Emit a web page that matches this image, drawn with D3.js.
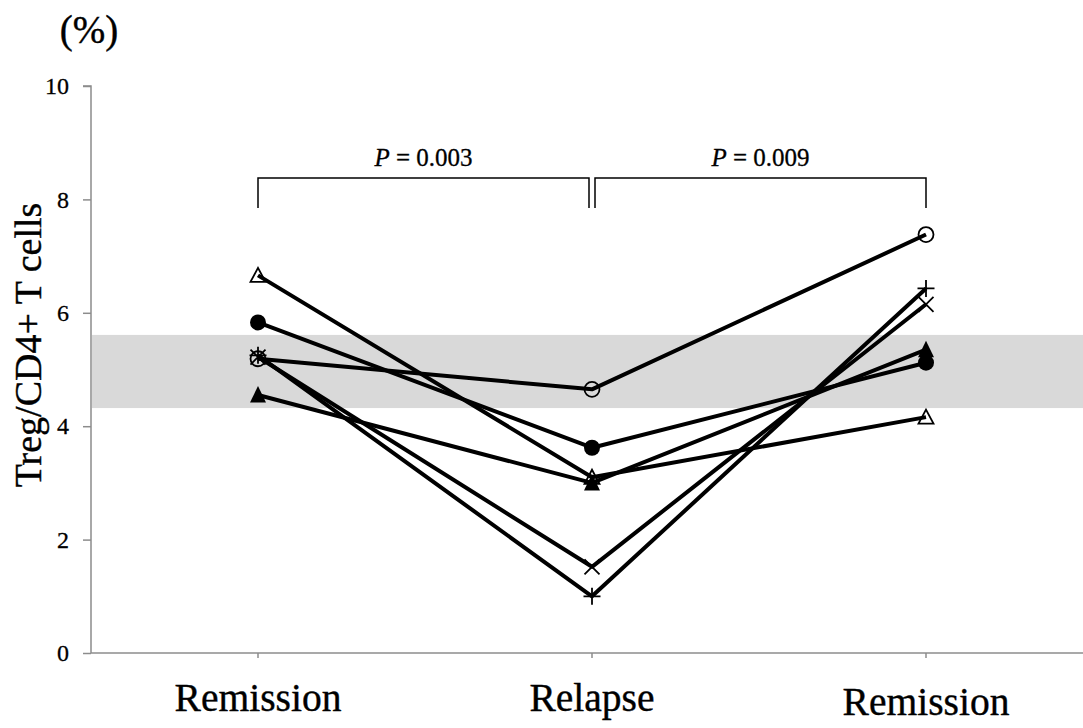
<!DOCTYPE html>
<html>
<head>
<meta charset="utf-8">
<script src="https://cdn.jsdelivr.net/npm/d3@7"></script>
<style>
  html, body { margin: 0; padding: 0; background: #fff; }
  svg { display: block; }
  text { font-family: "Liberation Serif", "Times New Roman", serif; fill: #000; }
</style>
</head>
<body>
<div id="chart"></div>
<script>
// ── Data ──────────────────────────────────────────────────────────────
const categories   = ["rem1", "relapse", "rem2"];
const categoryText = ["Remission", "Relapse", "Remission"];
const yTicks       = [0, 2, 4, 6, 8, 10];

// one entry per patient: marker type + values at the three time points
const seriesMarkers = ["triangleOpen", "circleFilled", "circleOpen", "cross", "plus", "triangleFilled"];
const seriesValues  = [
  [6.66, 3.10, 4.16],
  [5.83, 3.62, 5.12],
  [5.19, 4.65, 7.38],
  [5.22, 1.52, 6.15],
  [5.25, 1.00, 6.43],
  [4.55, 3.00, 5.35]
];

// normal range band
const normalRange = [4.32, 5.61];

// significance brackets: [from, to, label]
const brackets = [
  ["rem1", "relapse", "0.003"],
  ["relapse", "rem2", "0.009"]
];

// ── Layout ────────────────────────────────────────────────────────────
const W = 1083, H = 728;
const plot = { left: 91, right: 1093, top: 86, bottom: 653 };

const svg = d3.select("#chart").append("svg")
  .attr("width", W)
  .attr("height", H);

const x = d3.scaleBand()
  .domain(categories)
  .range([plot.left, plot.right]);
const cx = c => x(c) + x.bandwidth() / 2;

const y = d3.scaleLinear()
  .domain([0, 10])
  .range([plot.bottom, plot.top]);

// ── Normal range band ─────────────────────────────────────────────────
svg.append("rect")
  .attr("x", plot.left + 1)
  .attr("y", y(normalRange[1]))
  .attr("width", W - plot.left - 1)
  .attr("height", y(normalRange[0]) - y(normalRange[1]))
  .attr("fill", "#d9d9d9");

// ── Axes ──────────────────────────────────────────────────────────────
const axisColor = "#8c8c8c";
const serif = '"Liberation Serif", "Times New Roman", serif';

const yAxis = svg.append("g")
  .attr("transform", `translate(${plot.left},0)`)
  .call(d3.axisLeft(y).tickValues(yTicks).tickSize(8).tickPadding(14).tickFormat(d3.format("d")));
yAxis.select(".domain").attr("stroke", axisColor).attr("stroke-width", 1.5)
  .attr("d", `M-8,${y(10)}H0V${y(0)}`);
yAxis.selectAll(".tick line").attr("stroke", axisColor).attr("stroke-width", 1.5);
yAxis.selectAll(".tick text")
  .style("font-family", serif)
  .style("font-size", "24px")
  .attr("fill", "#000")
  .attr("stroke", "#000").attr("stroke-width", 0.3);

const xAxis = svg.append("g")
  .attr("transform", `translate(0,${plot.bottom})`)
  .call(d3.axisBottom(x).tickSize(5).tickFormat(""));
xAxis.select(".domain").attr("stroke", axisColor).attr("stroke-width", 1.5)
  .attr("d", `M${plot.left},0H${W}`);
xAxis.selectAll(".tick line").attr("stroke", axisColor).attr("stroke-width", 1.5);

// category labels (the last one sits a touch lower in the original)
svg.append("g").selectAll("text")
  .data(categories)
  .join("text")
  .attr("x", d => cx(d))
  .attr("y", (d, i) => 711 + (i === 2 ? 4 : 0))
  .attr("text-anchor", "middle")
  .attr("stroke", "#000").attr("stroke-width", 0.4)
  .style("font-size", "39.5px")
  .text((d, i) => categoryText[i]);

// y-axis title and unit
svg.append("text")
  .attr("transform", "translate(41,345) rotate(-90)")
  .attr("text-anchor", "middle")
  .attr("stroke", "#000").attr("stroke-width", 0.4)
  .style("font-size", "38px")
  .text("Treg/CD4+ T cells");

svg.append("text")
  .attr("x", 89)
  .attr("y", 43)
  .attr("text-anchor", "middle")
  .attr("stroke", "#000").attr("stroke-width", 0.4)
  .style("font-size", "39px")
  .text("(%)");

// ── Significance brackets ─────────────────────────────────────────────
const brY = 178, brDrop = 30, brGap = 3;
brackets.forEach(([a, b, p], i) => {
  const x1 = cx(a) + (i === 1 ? brGap : 0);
  const x2 = cx(b) - (i === 0 ? brGap : 0);
  svg.append("path")
    .attr("d", `M${x1},${brY + brDrop}V${brY}H${x2}V${brY + brDrop}`)
    .attr("fill", "none")
    .attr("stroke", "#000")
    .attr("stroke-width", 1.5);
  const t = svg.append("text")
    .attr("x", (x1 + x2) / 2)
    .attr("y", brY - 12)
    .attr("text-anchor", "middle")
    .attr("stroke", "#000").attr("stroke-width", 0.3)
    .style("font-size", "25px");
  t.append("tspan").style("font-style", "italic").text("P");
  t.append("tspan").text(` = ${p}`);
});

// ── Series lines ──────────────────────────────────────────────────────
const line = d3.line()
  .x((d, i) => cx(categories[i]))
  .y(d => y(d));

svg.append("g").selectAll("path")
  .data(seriesValues)
  .join("path")
  .attr("d", line)
  .attr("fill", "none")
  .attr("stroke", "#000")
  .attr("stroke-width", 4)
  .attr("stroke-linejoin", "round");

// ── Markers ───────────────────────────────────────────────────────────
function drawMarker(g, type) {
  const s = 7.5;
  switch (type) {
    case "circleFilled":
      g.append("circle").attr("r", 8).attr("fill", "#000");
      break;
    case "circleOpen":
      g.append("circle").attr("r", 7.5).attr("fill", "none")
        .attr("stroke", "#000").attr("stroke-width", 1.8);
      break;
    case "triangleFilled":
      g.append("path").attr("d", `M0,${-s - 1.5}L${s + 0.5},${s}L${-s - 0.5},${s}Z`).attr("fill", "#000");
      break;
    case "triangleOpen":
      g.append("path").attr("d", `M0,${-s}L${s},${s - 1}L${-s},${s - 1}Z`).attr("fill", "none")
        .attr("stroke", "#000").attr("stroke-width", 1.8);
      break;
    case "cross":
      g.append("path").attr("d", `M${-s},${-s}L${s},${s}M${-s},${s}L${s},${-s}`)
        .attr("stroke", "#000").attr("stroke-width", 1.8);
      break;
    case "plus":
      g.append("path").attr("d", `M${-s - 1},0H${s + 1}M0,${-s - 1}V${s + 1}`)
        .attr("stroke", "#000").attr("stroke-width", 1.8);
      break;
  }
}

seriesValues.forEach((vals, si) => {
  vals.forEach((v, i) => {
    const g = svg.append("g")
      .attr("transform", `translate(${cx(categories[i])},${y(v)})`);
    drawMarker(g, seriesMarkers[si]);
  });
});
</script>
</body>
</html>
